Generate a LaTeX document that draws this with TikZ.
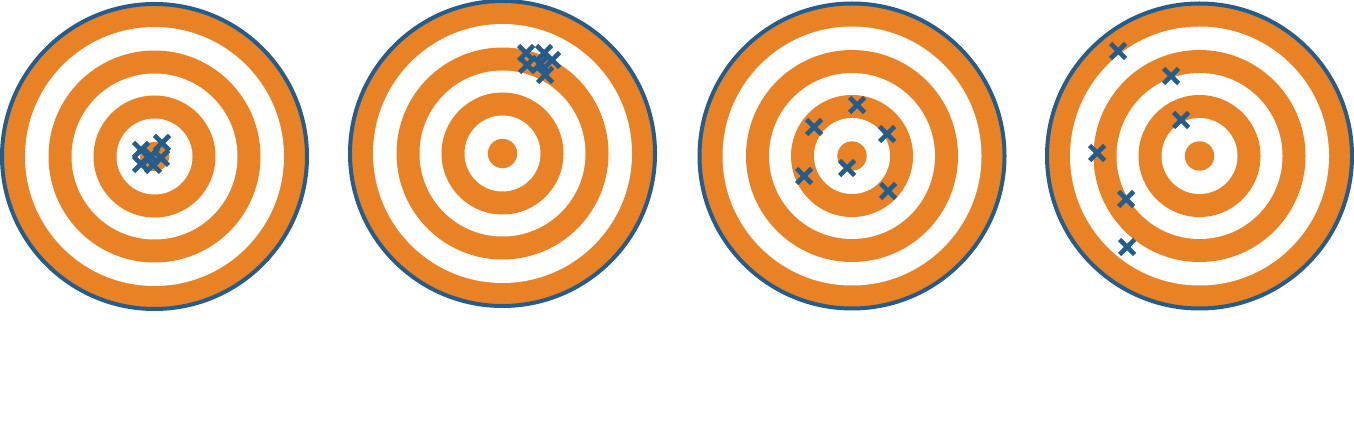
\documentclass[tikz,border=0pt]{standalone}
\definecolor{tgorange}{RGB}{233,129,37}
\definecolor{tgblue}{RGB}{36,92,140}
\tikzset{
  hitmark/.pic={\draw[tgblue,line width=4.6pt] (-7.5,-7.5) -- (7.5,7.5) (-7.5,7.5) -- (7.5,-7.5);},
  ringorange/.style={fill=tgorange},
  ringwhite/.style={fill=white}
}
\newcommand{\targetat}[2]{%
  \begin{scope}[shift={(#1,#2)}]
    \fill[ringorange] (0,0) circle (152.5);
    \draw[tgblue,line width=4pt] (0,0) circle (152.5);
    \fill[ringwhite] (0,0) circle (129.5);
    \fill[ringorange] (0,0) circle (106);
    \fill[ringwhite] (0,0) circle (83);
    \fill[ringorange] (0,0) circle (61);
    \fill[ringwhite] (0,0) circle (38);
    \fill[ringorange] (0,0) circle (14.7);
  \end{scope}}
\begin{document}
\begin{tikzpicture}[x=1pt,y=-1pt]
\useasboundingbox[fill=white] (0,0) rectangle (1354,427);
\targetat{154.5}{156.5}
\targetat{502.5}{153.5}
\targetat{852}{156}
\targetat{1199.5}{156}
% target 1: tight cluster at centre
\foreach \p in {(141,150),(162,143),(151,156),(141,164),(161,158),(153,165)}
  \pic at \p {hitmark};
% target 2: tight cluster off centre
\foreach \p in {(526,53),(527,65),(544,53),(552,60),(540,64),(545,75)}
  \pic at \p {hitmark};
% target 3: spread around centre
\foreach \p in {(857,105),(814,127),(887,134),(804,176),(847,168),(888,191)}
  \pic at \p {hitmark};
% target 4: spread off centre
\foreach \p in {(1118,51),(1171,76),(1181,120),(1097,153),(1126,199),(1127,247)}
  \pic at \p {hitmark};
\end{tikzpicture}
\end{document}
